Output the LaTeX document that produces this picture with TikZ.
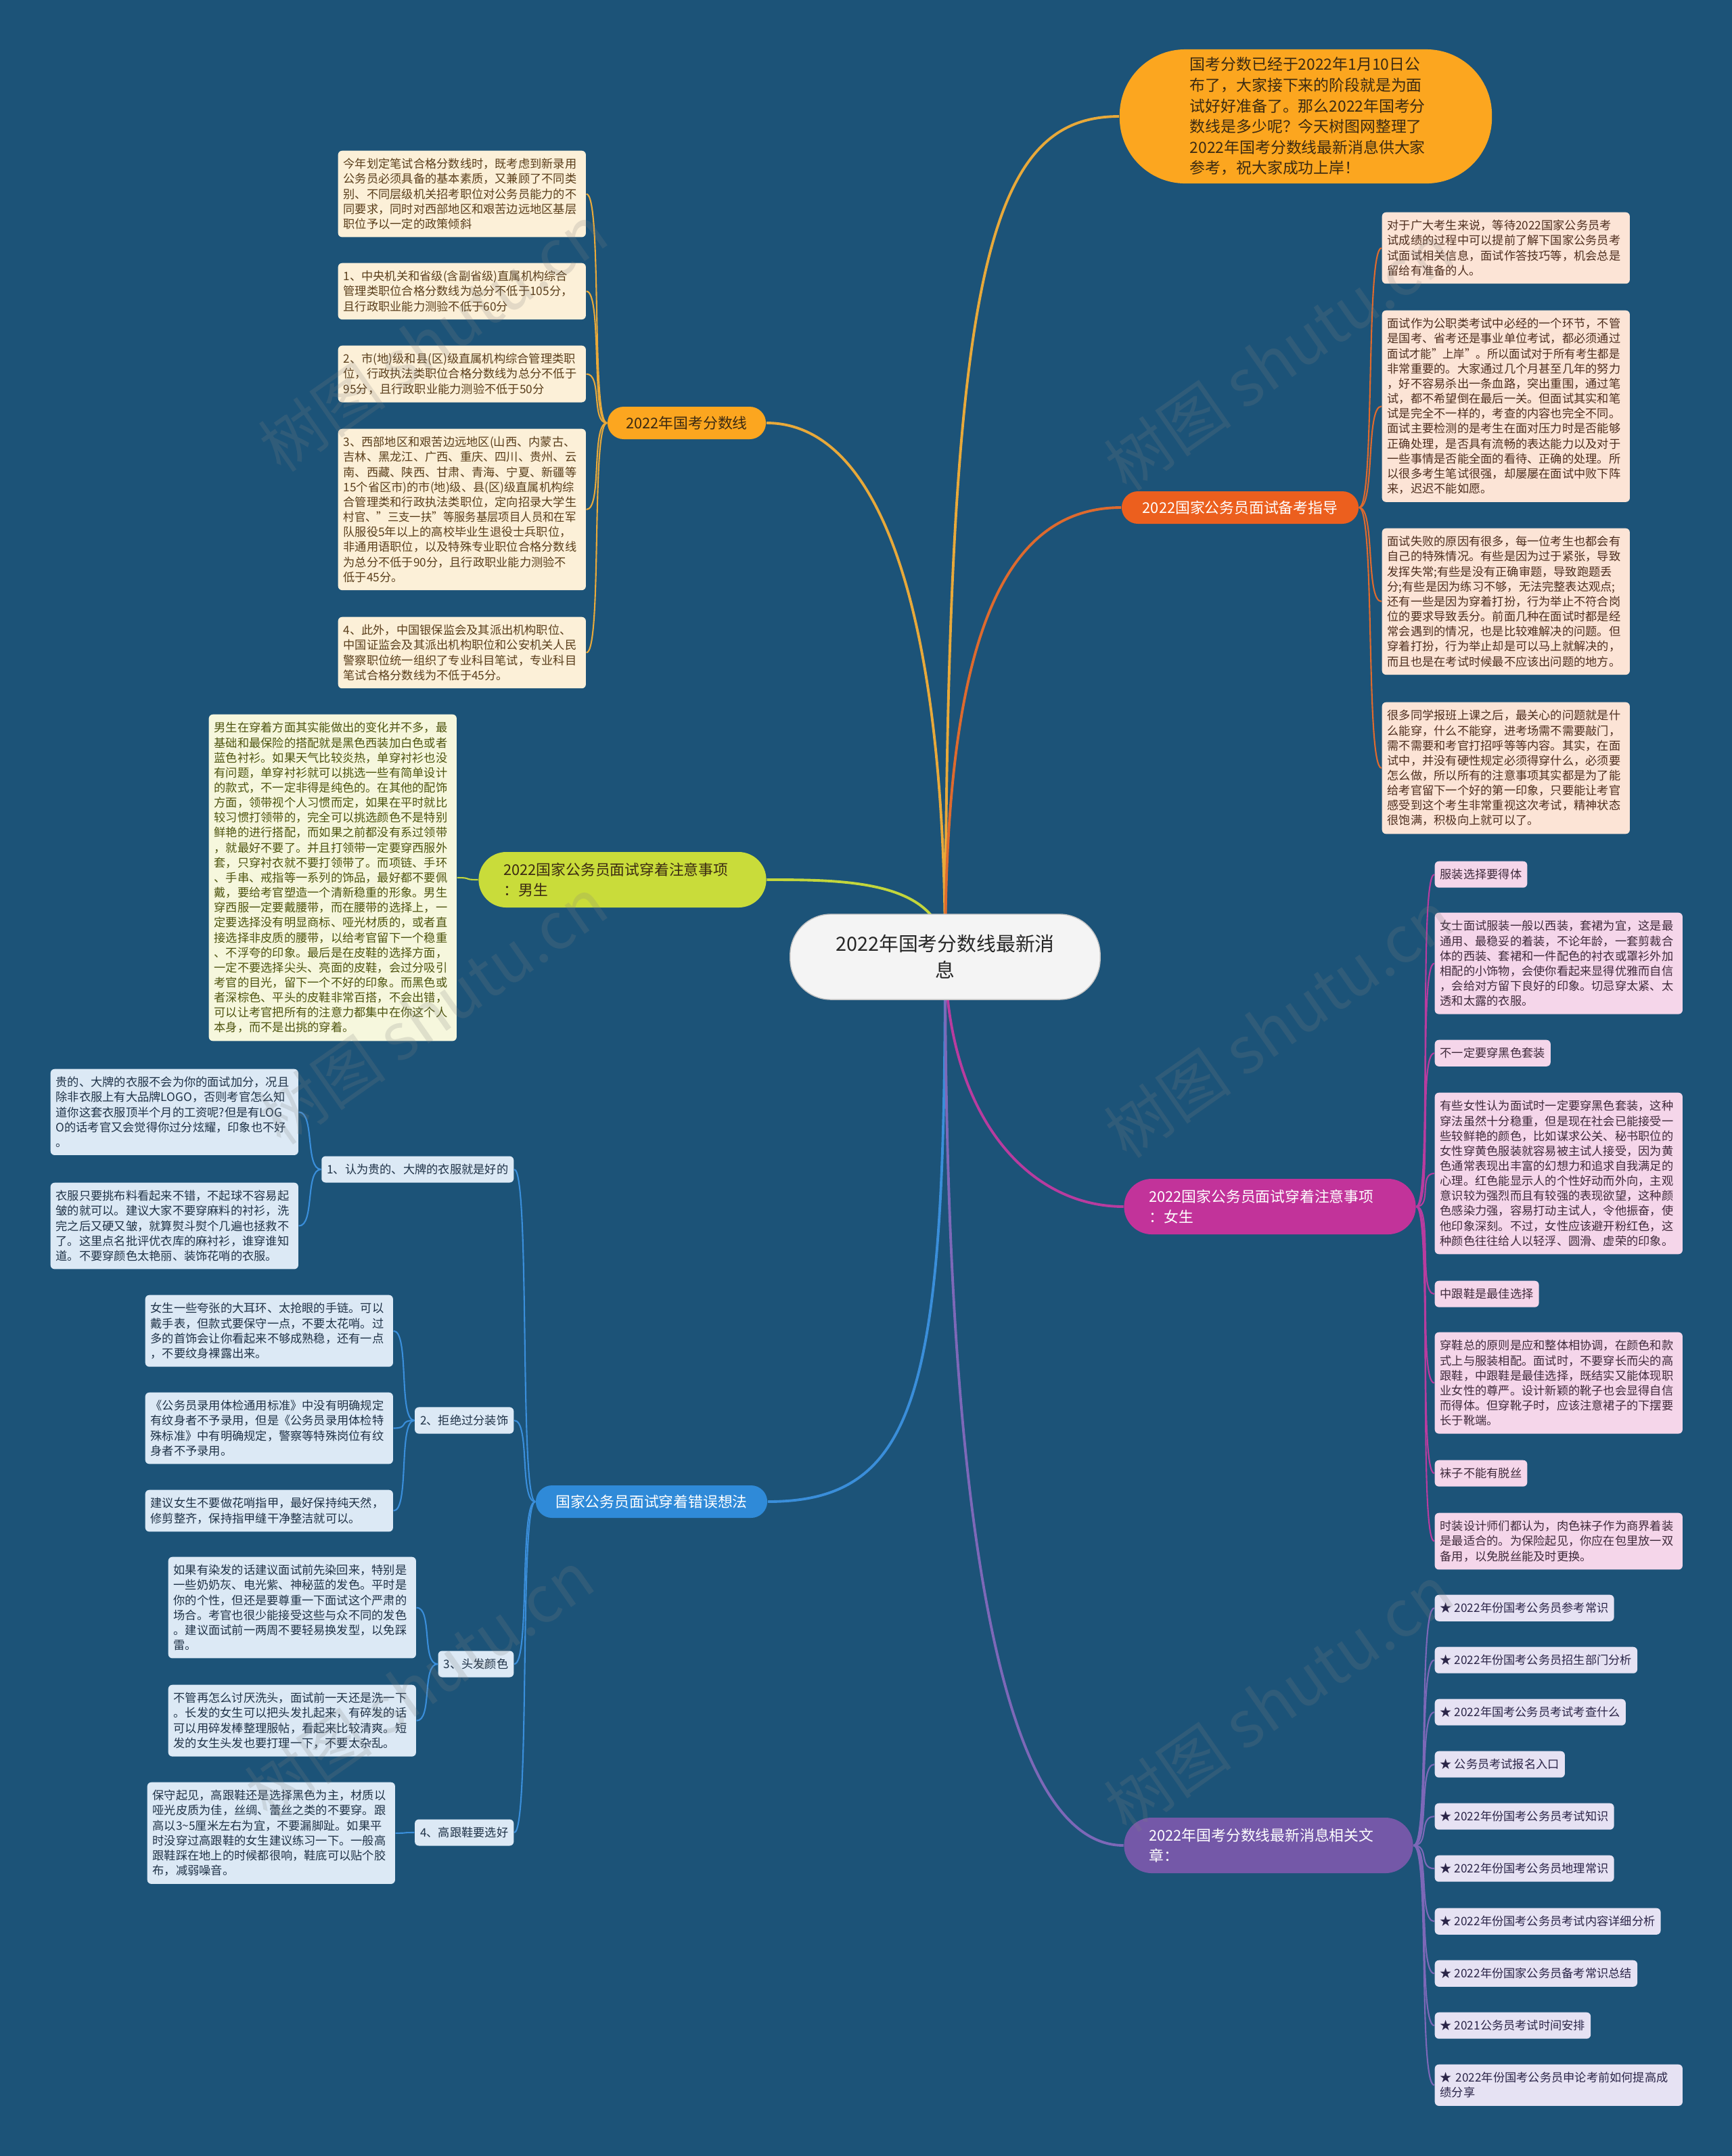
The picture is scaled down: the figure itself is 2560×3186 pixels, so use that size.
\documentclass[tikz,border=0pt]{standalone}
\usepackage{fontspec}
\usepackage{graphicx}
\setmainfont{Noto Sans CJK SC}
\newcommand{\snug}[1]{\scalebox{0.95}[1]{#1}}
\definecolor{mapbg}{HTML}{1C5378}
\definecolor{hubfill}{HTML}{F4F4F4}
\definecolor{goldfill}{HTML}{FCA61F}
\definecolor{golddark}{HTML}{3B2A12}
\definecolor{goldline}{HTML}{E8A93A}
\definecolor{goldleaf}{HTML}{FCF0D8}
\definecolor{goldtext}{HTML}{5A3E1B}
\definecolor{redfill}{HTML}{EC5F1E}
\definecolor{redline}{HTML}{DE6A2E}
\definecolor{redleaf}{HTML}{FCE4D6}
\definecolor{redtext}{HTML}{4E2E1E}
\definecolor{limefill}{HTML}{C9DC3A}
\definecolor{limeline}{HTML}{C3D63C}
\definecolor{limeleaf}{HTML}{F6F7DD}
\definecolor{limetext}{HTML}{4E540F}
\definecolor{pinkfill}{HTML}{C2339A}
\definecolor{pinkline}{HTML}{B83C9F}
\definecolor{pinkleaf}{HTML}{F5D6EA}
\definecolor{pinktext}{HTML}{3F2A3B}
\definecolor{bluefill}{HTML}{2F8AD8}
\definecolor{blueline}{HTML}{3A8EDA}
\definecolor{blueleaf}{HTML}{DCE9F5}
\definecolor{bluetext}{HTML}{1F3247}
\definecolor{violetfill}{HTML}{7458A8}
\definecolor{violetline}{HTML}{7D68B8}
\definecolor{violetleaf}{HTML}{E6E2F3}
\definecolor{violettext}{HTML}{2B2548}
\pgfdeclarelayer{back}
\pgfdeclarelayer{wires}
\pgfsetlayers{back,wires,main}
\tikzset{
  hub/.style={rectangle,rounded corners=0.6cm,fill=hubfill,draw=hubfill!80!black,line width=0.4pt,
    align=center,minimum width=4.58cm,minimum height=1.26cm,text=black!85,
    font=\fontsize{8.2pt}{11pt}\selectfont},
  intro/.style={rectangle,rounded corners=0.97cm,fill=goldfill,align=left,text width=3.42cm,
    inner xsep=1.04cm,minimum height=1.95cm,text=golddark,font=\fontsize{6.5pt}{8.7pt}\selectfont},
  branch/.style={rectangle,rounded corners=0.24cm,minimum height=0.48cm,align=center,
    font=\fontsize{6.2pt}{8.6pt}\selectfont},
  tallbranch/.style={branch,rounded corners=0.41cm,minimum height=0.82cm,align=left,inner xsep=0.37cm},
  leaf/.style={rectangle,rounded corners=1.7pt,anchor=north west,align=left,
    inner xsep=0.08cm,inner ysep=0.115cm,font=\fontsize{4.9pt}{6.3pt}\selectfont},
  wideleaf/.style={leaf,text width=3.5cm},
  tagleaf/.style={leaf,minimum height=0.38cm},
  goldbox/.style={fill=goldleaf,text=goldtext},
  peachbox/.style={fill=redleaf,text=redtext},
  limebox/.style={fill=limeleaf,text=limetext},
  rosebox/.style={fill=pinkleaf,text=pinktext},
  skybox/.style={fill=blueleaf,text=bluetext},
  lilacbox/.style={fill=violetleaf,text=violettext},
  hublink/.style={line width=1.1pt},
  twig/.style={line width=0.6pt},
  twigl/.style={to path={.. controls +(-24,0) and +(24,0) .. (\tikztotarget)}},
  twigr/.style={to path={.. controls +(24,0) and +(-24,0) .. (\tikztotarget)}},
  wmark/.style={rotate=35,text=gray,opacity=0.2,font=\fontsize{27pt}{27pt}\selectfont}
}

\begin{document}
\begin{tikzpicture}[x=0.01cm,y=-0.01cm]
  \begin{pgfonlayer}{back}
    \fill[mapbg] (0,0) rectangle (2560,3186);
  \end{pgfonlayer}
  \useasboundingbox (0,0) rectangle (2560,3186);

  % centre and intro
  \node[hub] (hub) at (1397,1414) {2022年国考分数线最新消\\息};
  \node[intro] (intro) at (1930,172) {国考分数已经于2022年1月10日公\\布了，大家接下来的阶段就是为面\\试好好准备了。那么2022年国考分\\数线是多少呢？今天树图网整理了\\2022年国考分数线最新消息供大家\\参考，祝大家成功上岸！};

  % main branches
  \node[branch,fill=goldfill,text=golddark,minimum width=2.34cm] (score) at (1015,625) {2022年国考分数线};
  \node[branch,fill=redfill,text=white,minimum width=3.5cm] (prep) at (1833,750) {2022国家公务员面试备考指导};
  \node[tallbranch,fill=limefill,text=golddark,text width=3.51cm] (male) at (920,1300) {2022国家公务员面试穿着注意事项\\：男生};
  \node[tallbranch,fill=pinkfill,text=white,text width=3.57cm] (female) at (1877,1783) {2022国家公务员面试穿着注意事项\\：女生};
  \node[branch,fill=bluefill,text=white,minimum width=3.42cm] (myth) at (963,2219) {国家公务员面试穿着错误想法};
  \node[tallbranch,fill=violetfill,text=white,text width=3.53cm] (reads) at (1875,2727) {2022年国考分数线最新消息相关文\\章：};

  % score lines
  \node[wideleaf,goldbox] (score1) at (499,222) {今年划定笔试合格分数线时，既考虑到新录用\\公务员必须具备的基本素质，又兼顾了不同类\\别、不同层级机关招考职位对公务员能力的不\\同要求，同时对西部地区和艰苦边远地区基层\\职位予以一定的政策倾斜};
  \node[wideleaf,goldbox] (score2) at (499,388) {1、中央机关和省级(含副省级)直属机构综合\\管理类职位合格分数线为总分不低于105分，\\且行政职业能力测验不低于60分};
  \node[wideleaf,goldbox] (score3) at (499,510) {2、市(地)级和县(区)级直属机构综合管理类职\\位，行政执法类职位合格分数线为总分不低于\\95分，且行政职业能力测验不低于50分};
  \node[wideleaf,goldbox] (score4) at (499,633) {3、西部地区和艰苦边远地区(山西、内蒙古、\\吉林、黑龙江、广西、重庆、四川、贵州、云\\南、西藏、陕西、甘肃、青海、宁夏、新疆等\\15个省区市)的市(地)级、县(区)级直属机构综\\合管理类和行政执法类职位，定向招录大学生\\\snug{村官、"三支一扶"等服务基层项目人员和在军}\\队服役5年以上的高校毕业生退役士兵职位，\\非通用语职位，以及特殊专业职位合格分数线\\为总分不低于90分，且行政职业能力测验不\\低于45分。};
  \node[wideleaf,goldbox] (score5) at (499,911) {4、此外，中国银保监会及其派出机构职位、\\中国证监会及其派出机构职位和公安机关人民\\警察职位统一组织了专业科目笔试，专业科目\\笔试合格分数线为不低于45分。};

  % interview preparation
  \node[wideleaf,peachbox] (prep1) at (2042,313) {对于广大考生来说，等待2022国家公务员考\\试成绩的过程中可以提前了解下国家公务员考\\试面试相关信息，面试作答技巧等，机会总是\\留给有准备的人。};
  \node[wideleaf,peachbox] (prep2) at (2042,458) {面试作为公职类考试中必经的一个环节，不管\\是国考、省考还是事业单位考试，都必须通过\\\snug{面试才能"上岸"。所以面试对于所有考生都是}\\非常重要的。大家通过几个月甚至几年的努力\\，好不容易杀出一条血路，突出重围，通过笔\\试，都不希望倒在最后一关。但面试其实和笔\\试是完全不一样的，考查的内容也完全不同。\\面试主要检测的是考生在面对压力时是否能够\\正确处理，是否具有流畅的表达能力以及对于\\一些事情是否能全面的看待、正确的处理。所\\以很多考生笔试很强，却屡屡在面试中败下阵\\来，迟迟不能如愿。};
  \node[wideleaf,peachbox] (prep3) at (2042,780) {面试失败的原因有很多，每一位考生也都会有\\自己的特殊情况。有些是因为过于紧张，导致\\发挥失常;有些是没有正确审题，导致跑题丢\\分;有些是因为练习不够，无法完整表达观点;\\还有一些是因为穿着打扮，行为举止不符合岗\\位的要求导致丢分。前面几种在面试时都是经\\常会遇到的情况，也是比较难解决的问题。但\\穿着打扮，行为举止却是可以马上就解决的，\\而且也是在考试时候最不应该出问题的地方。};
  \node[wideleaf,peachbox] (prep4) at (2042,1037) {很多同学报班上课之后，最关心的问题就是什\\么能穿，什么不能穿，进考场需不需要敲门，\\需不需要和考官打招呼等等内容。其实，在面\\试中，并没有硬性规定必须得穿什么，必须要\\怎么做，所以所有的注意事项其实都是为了能\\给考官留下一个好的第一印象，只要能让考官\\感受到这个考生非常重视这次考试，精神状态\\很饱满，积极向上就可以了。};

  % men
  \node[wideleaf,limebox] (male1) at (308,1055) {男生在穿着方面其实能做出的变化并不多，最\\基础和最保险的搭配就是黑色西装加白色或者\\蓝色衬衫。如果天气比较炎热，单穿衬衫也没\\有问题，单穿衬衫就可以挑选一些有简单设计\\的款式，不一定非得是纯色的。在其他的配饰\\方面，领带视个人习惯而定，如果在平时就比\\较习惯打领带的，完全可以挑选颜色不是特别\\鲜艳的进行搭配，而如果之前都没有系过领带\\，就最好不要了。并且打领带一定要穿西服外\\套，只穿衬衣就不要打领带了。而项链、手环\\、手串、戒指等一系列的饰品，最好都不要佩\\戴，要给考官塑造一个清新稳重的形象。男生\\穿西服一定要戴腰带，而在腰带的选择上，一\\定要选择没有明显商标、哑光材质的，或者直\\接选择非皮质的腰带，以给考官留下一个稳重\\、不浮夸的印象。最后是在皮鞋的选择方面，\\一定不要选择尖头、亮面的皮鞋，会过分吸引\\考官的目光，留下一个不好的印象。而黑色或\\者深棕色、平头的皮鞋非常百搭，不会出错，\\可以让考官把所有的注意力都集中在你这个人\\本身，而不是出挑的穿着。};

  % women
  \node[tagleaf,rosebox] (fem1) at (2120,1272) {服装选择要得体};
  \node[wideleaf,rosebox] (fem2) at (2120,1348) {女士面试服装一般以西装，套裙为宜，这是最\\通用、最稳妥的着装，不论年龄，一套剪裁合\\体的西装、套裙和一件配色的衬衣或罩衫外加\\相配的小饰物，会使你看起来显得优雅而自信\\，会给对方留下良好的印象。切忌穿太紧、太\\透和太露的衣服。};
  \node[tagleaf,rosebox] (fem3) at (2120,1536) {不一定要穿黑色套装};
  \node[wideleaf,rosebox] (fem4) at (2120,1614) {有些女性认为面试时一定要穿黑色套装，这种\\穿法虽然十分稳重，但是现在社会已能接受一\\些较鲜艳的颜色，比如谋求公关、秘书职位的\\女性穿黄色服装就容易被主试人接受，因为黄\\色通常表现出丰富的幻想力和追求自我满足的\\心理。红色能显示人的个性好动而外向，主观\\意识较为强烈而且有较强的表现欲望，这种颜\\色感染力强，容易打动主试人，令他振奋，使\\他印象深刻。不过，女性应该避开粉红色，这\\种颜色往往给人以轻浮、圆滑、虚荣的印象。};
  \node[tagleaf,rosebox] (fem5) at (2120,1892) {中跟鞋是最佳选择};
  \node[wideleaf,rosebox] (fem6) at (2120,1968) {穿鞋总的原则是应和整体相协调，在颜色和款\\式上与服装相配。面试时，不要穿长而尖的高\\跟鞋，中跟鞋是最佳选择，既结实又能体现职\\业女性的尊严。设计新颖的靴子也会显得自信\\而得体。但穿靴子时，应该注意裙子的下摆要\\长于靴端。};
  \node[tagleaf,rosebox] (fem7) at (2120,2157) {袜子不能有脱丝};
  \node[wideleaf,rosebox] (fem8) at (2120,2235) {时装设计师们都认为，肉色袜子作为商界着装\\是最适合的。为保险起见，你应在包里放一双\\备用，以免脱丝能及时更换。};

  % wrong ideas
  \node[tagleaf,skybox,anchor=east] (myth1) at (760,1728) {1、认为贵的、大牌的衣服就是好的};
  \node[tagleaf,skybox,anchor=east] (myth2) at (760,2099) {2、拒绝过分装饰};
  \node[tagleaf,skybox,anchor=east] (myth3) at (760,2459) {3、头发颜色};
  \node[tagleaf,skybox,anchor=east] (myth4) at (760,2708) {4、高跟鞋要选好};
  \node[wideleaf,skybox] (brand1) at (74,1579) {贵的、大牌的衣服不会为你的面试加分，况且\\除非衣服上有大品牌LOGO，否则考官怎么知\\道你这套衣服顶半个月的工资呢?但是有LOG\\O的话考官又会觉得你过分炫耀，印象也不好\\。};
  \node[wideleaf,skybox] (brand2) at (74,1747) {衣服只要挑布料看起来不错，不起球不容易起\\皱的就可以。建议大家不要穿麻料的衬衫，洗\\完之后又硬又皱，就算熨斗熨个几遍也拯救不\\了。这里点名批评优衣库的麻衬衫，谁穿谁知\\道。不要穿颜色太艳丽、装饰花哨的衣服。};
  \node[wideleaf,skybox] (deco1) at (214,1913) {女生一些夸张的大耳环、太抢眼的手链。可以\\戴手表，但款式要保守一点，不要太花哨。过\\多的首饰会让你看起来不够成熟稳，还有一点\\，不要纹身裸露出来。};
  \node[wideleaf,skybox] (deco2) at (214,2057) {《公务员录用体检通用标准》中没有明确规定\\有纹身者不予录用，但是《公务员录用体检特\\殊标准》中有明确规定，警察等特殊岗位有纹\\身者不予录用。};
  \node[wideleaf,skybox] (deco3) at (214,2201) {建议女生不要做花哨指甲，最好保持纯天然，\\修剪整齐，保持指甲缝干净整洁就可以。};
  \node[wideleaf,skybox] (hair1) at (248,2300) {如果有染发的话建议面试前先染回来，特别是\\一些奶奶灰、电光紫、神秘蓝的发色。平时是\\你的个性，但还是要尊重一下面试这个严肃的\\场合。考官也很少能接受这些与众不同的发色\\。建议面试前一两周不要轻易换发型，以免踩\\雷。};
  \node[wideleaf,skybox] (hair2) at (248,2489) {不管再怎么讨厌洗头，面试前一天还是洗一下\\。长发的女生可以把头发扎起来，有碎发的话\\可以用碎发棒整理服帖，看起来比较清爽。短\\发的女生头发也要打理一下，不要太杂乱。};
  \node[wideleaf,skybox] (heel1) at (217,2633) {保守起见，高跟鞋还是选择黑色为主，材质以\\哑光皮质为佳，丝绸、蕾丝之类的不要穿。跟\\高以3\textasciitilde5厘米左右为宜，不要漏脚趾。如果平\\时没穿过高跟鞋的女生建议练习一下。一般高\\跟鞋踩在地上的时候都很响，鞋底可以贴个胶\\布，减弱噪音。};

  % related articles
  \node[tagleaf,lilacbox] (read1) at (2120,2356) {★ 2022年份国考公务员参考常识};
  \node[tagleaf,lilacbox] (read2) at (2120,2433) {★ 2022年份国考公务员招生部门分析};
  \node[tagleaf,lilacbox] (read3) at (2120,2510) {★ 2022年国考公务员考试考查什么};
  \node[tagleaf,lilacbox] (read4) at (2120,2587) {★ 公务员考试报名入口};
  \node[tagleaf,lilacbox] (read5) at (2120,2664) {★ 2022年份国考公务员考试知识};
  \node[tagleaf,lilacbox] (read6) at (2120,2741) {★ 2022年份国考公务员地理常识};
  \node[tagleaf,lilacbox] (read7) at (2120,2819) {★ 2022年份国考公务员考试内容详细分析};
  \node[tagleaf,lilacbox] (read8) at (2120,2896) {★ 2022年份国家公务员备考常识总结};
  \node[tagleaf,lilacbox] (read9) at (2120,2973) {★ 2021公务员考试时间安排};
  \node[wideleaf,lilacbox] (read10) at (2120,3050) {★ 2022年份国考公务员申论考前如何提高成\\绩分享};

  \begin{pgfonlayer}{wires}
    % from the centre
    \draw[hublink,goldline] (hub.center) .. controls (1400,400) and (1460,172) .. (intro.west);
    \draw[hublink,goldline] (hub.center) .. controls (1397,900) and (1300,625) .. (score.east);
    \draw[hublink,redline] (hub.center) .. controls (1397,950) and (1480,750) .. (prep.west);
    \draw[hublink,limeline] (hub.center) .. controls (1397,1300) and (1250,1300) .. (male.east);
    \draw[hublink,pinkline] (hub.center) .. controls (1400,1650) and (1520,1783) .. (female.west);
    \draw[hublink,blueline] (hub.center) .. controls (1397,2050) and (1360,2219) .. (myth.east);
    \draw[hublink,violetline] (hub.center) .. controls (1397,2250) and (1480,2727) .. (reads.west);
    % score
    \draw[twig,goldline] (score.west) to[twigl] (score1.east);
    \draw[twig,goldline] (score.west) to[twigl] (score2.east);
    \draw[twig,goldline] (score.west) to[twigl] (score3.east);
    \draw[twig,goldline] (score.west) to[twigl] (score4.east);
    \draw[twig,goldline] (score.west) to[twigl] (score5.east);
    % preparation
    \draw[twig,redline] (prep.east) to[twigr] (prep1.west);
    \draw[twig,redline] (prep.east) to[twigr] (prep2.west);
    \draw[twig,redline] (prep.east) to[twigr] (prep3.west);
    \draw[twig,redline] (prep.east) to[twigr] (prep4.west);
    % men
    \draw[twig,limeline] (male.west) to[twigl] (male1.east);
    % women
    \draw[twig,pinkline] (female.east) to[twigr] (fem1.west);
    \draw[twig,pinkline] (female.east) to[twigr] (fem2.west);
    \draw[twig,pinkline] (female.east) to[twigr] (fem3.west);
    \draw[twig,pinkline] (female.east) to[twigr] (fem4.west);
    \draw[twig,pinkline] (female.east) to[twigr] (fem5.west);
    \draw[twig,pinkline] (female.east) to[twigr] (fem6.west);
    \draw[twig,pinkline] (female.east) to[twigr] (fem7.west);
    \draw[twig,pinkline] (female.east) to[twigr] (fem8.west);
    % wrong ideas
    \draw[twig,blueline] (myth.west) to[twigl] (myth1.east);
    \draw[twig,blueline] (myth.west) to[twigl] (myth2.east);
    \draw[twig,blueline] (myth.west) to[twigl] (myth3.east);
    \draw[twig,blueline] (myth.west) to[twigl] (myth4.east);
    \draw[twig,blueline] (myth1.west) to[twigl] (brand1.east);
    \draw[twig,blueline] (myth1.west) to[twigl] (brand2.east);
    \draw[twig,blueline] (myth2.west) to[twigl] (deco1.east);
    \draw[twig,blueline] (myth2.west) to[twigl] (deco2.east);
    \draw[twig,blueline] (myth2.west) to[twigl] (deco3.east);
    \draw[twig,blueline] (myth3.west) to[twigl] (hair1.east);
    \draw[twig,blueline] (myth3.west) to[twigl] (hair2.east);
    \draw[twig,blueline] (myth4.west) to[twigl] (heel1.east);
    % articles
    \draw[twig,violetline] (reads.east) to[twigr] (read1.west);
    \draw[twig,violetline] (reads.east) to[twigr] (read2.west);
    \draw[twig,violetline] (reads.east) to[twigr] (read3.west);
    \draw[twig,violetline] (reads.east) to[twigr] (read4.west);
    \draw[twig,violetline] (reads.east) to[twigr] (read5.west);
    \draw[twig,violetline] (reads.east) to[twigr] (read6.west);
    \draw[twig,violetline] (reads.east) to[twigr] (read7.west);
    \draw[twig,violetline] (reads.east) to[twigr] (read8.west);
    \draw[twig,violetline] (reads.east) to[twigr] (read9.west);
    \draw[twig,violetline] (reads.east) to[twigr] (read10.west);
  \end{pgfonlayer}

  % watermarks
  \node[wmark] (wm1) at (640,500) {树图 shutu.cn};
  \node[wmark] (wm2) at (1890,528) {树图 shutu.cn};
  \node[wmark] (wm3) at (640,1494) {树图 shutu.cn};
  \node[wmark] (wm4) at (1890,1514) {树图 shutu.cn};
  \node[wmark] (wm5) at (620,2489) {树图 shutu.cn};
  \node[wmark] (wm6) at (1890,2510) {树图 shutu.cn};
\end{tikzpicture}
\end{document}
